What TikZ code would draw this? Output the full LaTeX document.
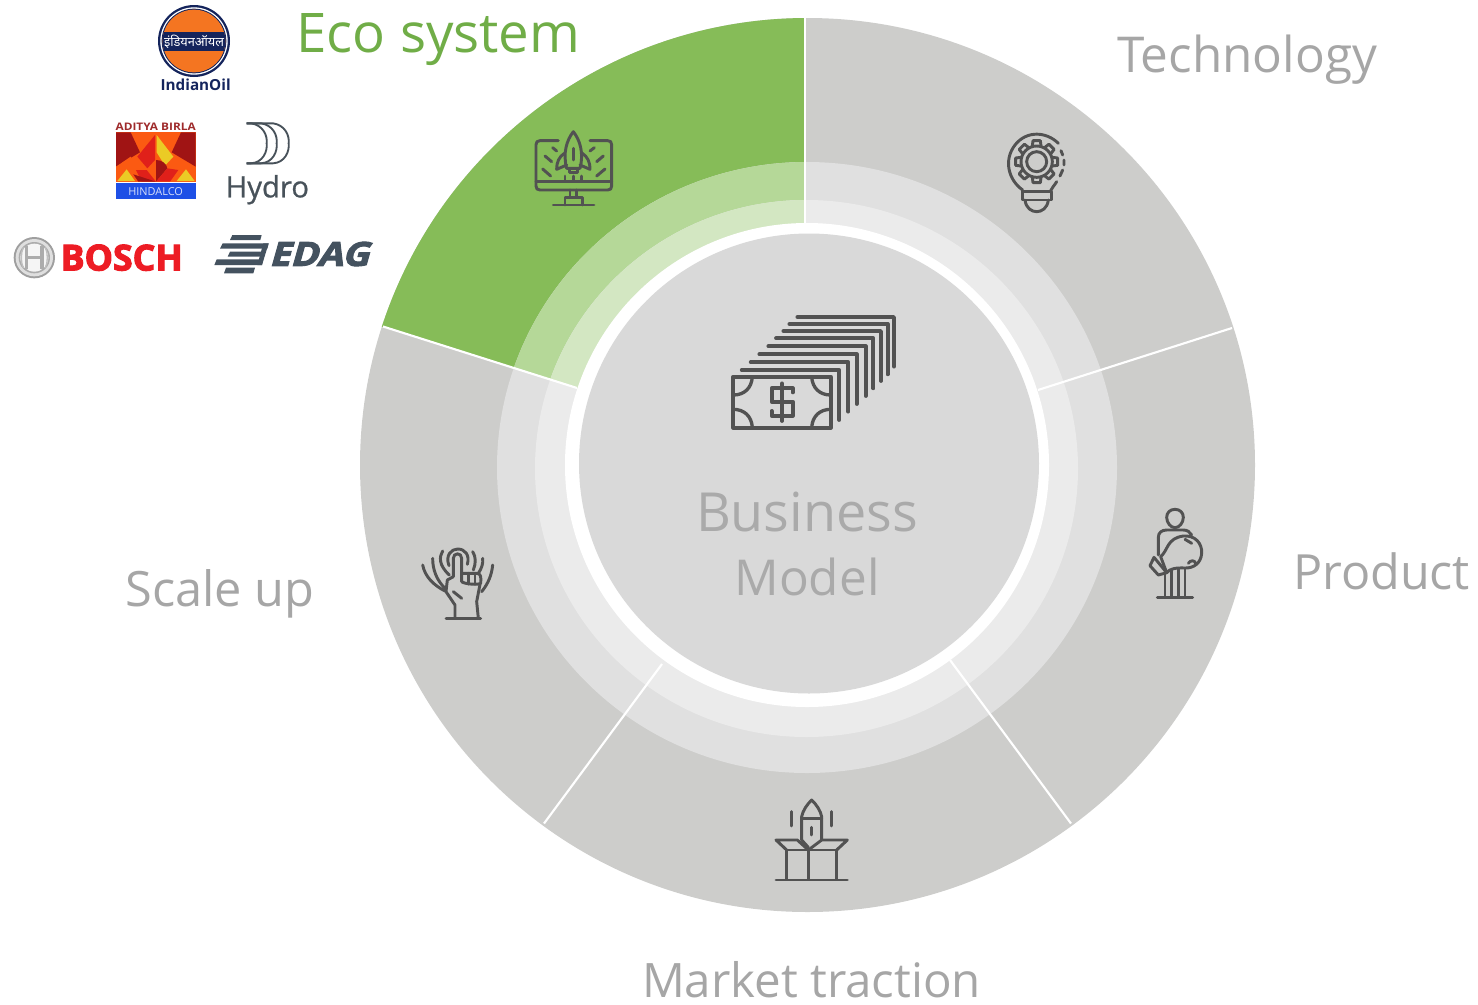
\documentclass[tikz,border=0pt]{standalone}
\usepackage{fontspec}
\setmainfont{Open Sans}
\newfontfamily\opensans{Open Sans}
\newfontfamily\devafont[Script=Devanagari]{Noto Sans}
\newfontfamily\heavyfont[FakeBold=3]{Open Sans Bold}
\newfontfamily\slantfont[FakeBold=3,FakeSlant=0.25]{Open Sans Bold}
\newfontfamily\medfont[FakeBold=0.8]{Open Sans}
\definecolor{outerg}{HTML}{CDCDCB}
\definecolor{midg}{HTML}{E0E0E0}
\definecolor{inng}{HTML}{EBEBEB}
\definecolor{discg}{HTML}{D9D9D9}
\definecolor{green1}{HTML}{86BC58}
\definecolor{green2}{HTML}{B5D898}
\definecolor{green3}{HTML}{D3E7C2}
\definecolor{ecotext}{HTML}{70AD47}
\definecolor{labelg}{HTML}{A6A6A6}
\definecolor{icong}{HTML}{525252}
\definecolor{navy}{HTML}{14245C}
\definecolor{ioil}{HTML}{F47521}
\definecolor{boschred}{HTML}{ED1C24}
\definecolor{edagc}{HTML}{44525F}
\definecolor{hydroc}{HTML}{48525A}
\definecolor{hdark}{HTML}{A01414}
\definecolor{hred}{HTML}{E0201A}
\definecolor{horange}{HTML}{FB5A12}
\definecolor{hyellow}{HTML}{EBCB25}
\definecolor{hblue}{HTML}{1E50E6}
\definecolor{hbirla}{HTML}{9E2A2B}
\tikzset{
  lab/.style={inner sep=0pt,anchor=base,text=labelg},
  ic/.style={draw=icong,line width=#1,line cap=round,line join=round,fill=none},
  ic/.default=2.2pt,
  sep/.style={draw=white,line width=1.6pt},
  zoomed/.style={x=0.25pt,y=-0.25pt}
}
\newcommand{\fitw}[2]{\resizebox{#1}{!}{#2}}
\newcommand{\ringpair}[6]{%
  \fill[#1] (#3,-#4) ellipse[x radius=#5,y radius=#6];
  \begin{scope}
    \clip (805,-400) -- (805,0) -- (-5,0) -- (-5,-205) -- (577,-388) -- cycle;
    \fill[#2] (#3,-#4) ellipse[x radius=#5,y radius=#6];
  \end{scope}
}
\begin{document}
\begin{tikzpicture}[x=0.75pt,y=0.75pt]
\useasboundingbox (0,0) rectangle (1478,-1004);
% rings
\ringpair{outerg}{green1}{807.5}{465}{447.5}{447}
\ringpair{midg}{green2}{807}{467.5}{310}{305.5}
\ringpair{inng}{green3}{806.5}{468.5}{271.5}{268.5}
\fill[white] (807,-465) circle[radius=242];
\fill[discg] (809,-463.5) circle[radius=230];
% separators
\coordinate (o1) at (805,-17);
\coordinate (i1) at (805,-223);
\coordinate (o2) at (383,-326.5);
\coordinate (i2) at (577,-388);
\coordinate (o3) at (544,-823.5);
\coordinate (i3) at (662,-664);
\coordinate (o4) at (1071,-823.5);
\coordinate (i4) at (950,-660);
\coordinate (o5) at (1232,-328);
\coordinate (i5) at (1038,-390);
\foreach \n in {1,...,5}{
  \draw[sep] (i\n) -- (o\n);
}
% labels
\node[lab,text=ecotext] (eco) at (438.5,-52) {\fitw{213pt}{\fontsize{40pt}{40pt}\selectfont Eco system}};
\node[lab] (tech) at (1247,-72) {\fitw{195pt}{\fontsize{34pt}{34pt}\selectfont Technology}};
\node[lab] (prod) at (1381.5,-589) {\fitw{132.75pt}{\fontsize{34pt}{34pt}\selectfont Product}};
\node[lab] (scale) at (220,-606) {\fitw{141.75pt}{\fontsize{34pt}{34pt}\selectfont Scale up}};
\node[lab] (market) at (811.5,-997) {\fitw{254.25pt}{\fontsize{34pt}{34pt}\selectfont Market traction}};
\node[lab,text=labelg!92!discg] (bus) at (807,-531) {\fitw{166.5pt}{\fontsize{38pt}{38pt}\selectfont Business}};
\node[lab,text=labelg!92!discg] (model) at (807,-595) {\fitw{108.75pt}{\fontsize{38pt}{38pt}\selectfont Model}};
% money icon
\begin{scope}[shift={(720,-305)},zoomed]
\foreach \xa/\xb/\ya/\yb in {65/358/195/345,92/385/172/320,118/410/148/297,145/437/124/273,168/460/100/250,190/483/78/228,208/503/57/208,232/522/36/185}{
  \draw[ic=2.8pt] (\xa,\ya) -- (\xb,\ya) -- (\xb,\yb);
}
\draw[ic=2.8pt] (40,215) rectangle (332,368);
\draw[ic=2.5pt] (40,270) .. controls (72,270) and (95,250) .. (97,215);
\draw[ic=2.5pt] (332,270) .. controls (300,270) and (277,250) .. (275,215);
\draw[ic=2.5pt] (40,313) .. controls (72,313) and (95,333) .. (97,368);
\draw[ic=2.5pt] (332,313) .. controls (300,313) and (277,333) .. (275,368);
\draw[ic=3pt] (218,262) -- (218,250) -- (155,250) -- (155,290) -- (218,290) -- (218,332) -- (155,332) -- (155,318);
\draw[ic=2.8pt] (186,235) -- (186,348);
\end{scope}
% rocket monitor
\begin{scope}[shift={(510,-110)},zoomed]
\draw[ic] (145,92) -- (90,92) .. controls (82,92) and (78,96) .. (78,104) -- (78,228) .. controls (78,236) and (82,240) .. (90,240) -- (293,240) .. controls (301,240) and (305,236) .. (305,228) -- (305,104) .. controls (305,96) and (301,92) .. (293,92) -- (240,92);
\draw[ic] (78,215) -- (305,215);
\draw[ic] (180,240) -- (180,262) (200,240) -- (200,262);
\draw[ic] (165,285) -- (165,262) -- (218,262) -- (218,285);
\draw[ic] (130,285) -- (252,285);
\draw[ic] (170,175) .. controls (158,130) and (170,90) .. (190,65) .. controls (210,90) and (222,130) .. (210,175) -- cycle;
\draw[ic] (163,130) .. controls (148,140) and (140,155) .. (140,178) -- (170,165);
\draw[ic] (217,130) .. controls (232,140) and (240,155) .. (240,178) -- (210,165);
\draw[ic] (190,115) -- (190,150);
\draw[ic] (178,178) -- (178,188) -- (203,188) -- (203,178);
\draw[ic] (165,198) -- (165,212) (190,198) -- (190,212) (215,198) -- (215,212);
\draw[ic] (128,113) -- (140,123) (105,138) -- (125,155) (98,177) -- (122,198);
\draw[ic] (253,113) -- (240,123) (280,138) -- (260,155) (285,177) -- (260,198);
\end{scope}
% bulb gear
\begin{scope}[shift={(990,-120)},zoomed]
\draw[ic] (205,70) .. controls (170,35) and (110,30) .. (75,75) .. controls (40,120) and (55,180) .. (98,210);
\draw[ic] (200,185) .. controls (192,198) and (185,204) .. (182,212);
\draw[ic] (213,92) -- (218,105) (222,120) -- (222,135) (218,150) -- (210,168);
\draw[ic] (97,215) rectangle (185,240);
\draw[ic] (105,240) .. controls (108,265) and (125,275) .. (140,275) .. controls (155,275) and (172,265) .. (175,240);
\draw[ic] (140,125) circle[radius=30];
\draw[ic] (140,125) circle[radius=47];
\foreach \a in {0,45,...,315}{
  \draw[ic,shift={(140,125)},rotate=\a] (47,-13) -- (63,-11) -- (63,11) -- (47,13);
}
\end{scope}
% person with bulb
\begin{scope}[shift={(1130,-500)},zoomed]
\draw[ic] (135,28) .. controls (120,28) and (110,38) .. (110,52) .. controls (110,68) and (122,83) .. (135,83) .. controls (148,83) and (160,68) .. (160,52) .. controls (160,38) and (150,28) .. (135,28) -- cycle;
\draw[ic] (85,165) -- (85,112) .. controls (85,98) and (95,90) .. (110,90) -- (160,90) .. controls (172,90) and (180,96) .. (185,105);
\draw[ic] (92,170) .. controls (115,150) and (110,115) .. (160,108) .. controls (195,105) and (217,130) .. (215,160) .. controls (213,190) and (190,205) .. (165,204) .. controls (140,203) and (120,205) .. (110,218) -- cycle;
\draw[ic] (72,172) -- (110,218) -- (85,225) -- (60,197) -- cycle;
\draw[ic] (165,118) -- (185,130);
\draw[ic] (175,190) .. controls (180,180) and (195,180) .. (197,190);
\draw[ic] (105,215) -- (105,290) (125,210) -- (125,290) (145,205) -- (145,290) (165,205) -- (165,290);
\draw[ic] (82,292) -- (188,292);
\end{scope}
% box rocket
\begin{scope}[shift={(760,-790)},zoomed]
\draw[ic] (125,150) -- (125,80) .. controls (128,62) and (142,42) .. (155,30) .. controls (168,42) and (182,62) .. (185,80) -- (185,150);
\draw[ic] (125,85) -- (185,85);
\draw[ic] (155,112) -- (155,135);
\draw[ic] (95,65) -- (95,108) (215,65) -- (215,108);
\draw[ic] (80,180) -- (230,180);
\draw[ic] (80,180) -- (80,268) (230,180) -- (230,268) (145,180) -- (145,268);
\draw[ic] (48,270) -- (262,270);
\draw[ic] (80,180) -- (48,150) -- (112,150) -- (145,180) -- (185,150) -- (262,150) -- (230,180);
\draw[ic] (125,150) -- (145,172);
\end{scope}
% hand
\begin{scope}[shift={(410,-535)},zoomed]
\draw[ic] (130,125) -- (130,70) .. controls (130,52) and (155,52) .. (155,70) -- (155,140);
\draw[ic] (117,92) .. controls (105,60) and (125,42) .. (143,42) .. controls (165,42) and (180,60) .. (172,88);
\draw[ic] (118,120) .. controls (85,90) and (88,65) .. (98,48);
\draw[ic] (190,105) .. controls (198,85) and (198,65) .. (188,50);
\draw[ic] (105,160) .. controls (80,135) and (68,105) .. (68,70);
\draw[ic] (205,115) .. controls (215,100) and (220,85) .. (218,70);
\draw[ic] (105,168) .. controls (70,150) and (45,125) .. (38,90);
\draw[ic] (215,170) .. controls (235,145) and (245,120) .. (248,90);
\draw[ic] (155,115) -- (200,115) .. controls (212,115) and (214,125) .. (212,145) .. controls (205,150) and (165,148) .. (155,140);
\draw[ic] (175,115) -- (175,147) (195,115) -- (195,148);
\draw[ic] (130,125) -- (112,135) -- (108,170) -- (135,210) -- (135,250);
\draw[ic] (210,148) -- (200,200) -- (205,250);
\draw[ic] (130,170) -- (155,190);
\draw[ic] (108,250) -- (212,250);
\end{scope}
% logos
\begin{scope}[zoomed]
% Indian Oil
\fill[navy] (582,123) circle[radius=108];
\fill[white] (582,123) circle[radius=101];
\fill[navy] (582,123) circle[radius=97];
\begin{scope}
\clip (582,123) circle[radius=94];
\fill[ioil] (480,20) rectangle (690,230);
\fill[navy] (480,97) rectangle (690,153);
\end{scope}
\node[inner sep=0pt,text=white] (iocl) at (582,125) {\resizebox{45pt}{!}{\devafont\bfseries इंडियनऑयल}};
\node[inner sep=0pt,text=navy] (ioname) at (587,254) {\resizebox{52.5pt}{!}{\opensans\bfseries IndianOil}};
% Hydro
\foreach \dx in {-22,8,44}{
  \draw[hydroc,line width=1.4pt] (740,370) -- (775+\dx,370) .. controls (810+\dx,375) and (825+\dx,405) .. (822+\dx,430) .. controls (825+\dx,455) and (810+\dx,488) .. (775+\dx,490) -- (740,490);
}
\node[inner sep=0pt,anchor=base,text=hydroc] (hydro) at (802,592) {\fitw{62.5pt}{\medfont Hydro}};
% Bosch
\fill[gray!75] (103,773) circle[radius=62];
\fill[gray!25] (103,773) circle[radius=56];
\fill[gray!65] (103,773) circle[radius=47];
\fill[gray!8] (103,773) circle[radius=42];
\draw[gray!65,line width=2.4pt] (80,738) -- (80,808) (126,738) -- (126,808);
\draw[gray!65,line width=2pt] (80,773) -- (126,773);
\draw[gray!50,line width=1pt] (70,742) .. controls (62,760) and (62,786) .. (70,804) (136,742) .. controls (144,760) and (144,786) .. (136,804);
\node[inner sep=0pt,text=boschred] (bosch) at (365,773) {\resizebox{91.5pt}{!}{\heavyfont BOSCH}};
% EDAG
\fill[edagc] (697,705) -- (785,705) -- (781,720) -- (690,720) -- cycle;
\fill[edagc] (668,730) -- (806,730) -- (802,746) -- (660,746) -- cycle;
\fill[edagc] (690,755) -- (795,755) -- (791,770) -- (683,770) -- cycle;
\fill[edagc] (650,778) -- (790,778) -- (786,795) -- (643,795) -- cycle;
\fill[edagc] (678,803) -- (765,803) -- (760,820) -- (672,820) -- cycle;
\fill[edagc] (806,730) -- (786,795) -- (772,795) -- (790,730) -- cycle;
\node[inner sep=0pt,text=edagc] (edag) at (957,762) {\resizebox{75pt}{18pt}{\slantfont EDAG}};
\end{scope}
% Hindalco
\begin{scope}[shift={(110,-115)},zoomed]
\node[inner sep=0pt,text=hbirla] (birla) at (137,35) {\resizebox{60pt}{5.6pt}{\opensans\bfseries ADITYA BIRLA}};
\fill[horange] (18,50) rectangle (257,202);
\fill[hdark] (18,52) -- (62,52) -- (90,112) -- (18,155) -- cycle;
\fill[hdark] (257,52) -- (213,52) -- (185,112) -- (257,155) -- cycle;
\fill[hred] (135,60) -- (82,125) -- (112,160) -- (135,135) -- cycle;
\fill[hyellow] (140,60) -- (190,125) -- (165,152) -- (140,112) -- cycle;
\fill[horange] (18,155) -- (62,125) -- (85,165) -- (60,170) -- cycle;
\fill[hdark] (138,200) -- (138,135) .. controls (155,135) and (170,145) .. (172,160) -- cycle;
\fill[hred] (138,200) -- (172,160) -- (205,165) -- (180,200) -- cycle;
\fill[hred] (138,200) -- (110,165) -- (78,165) -- (95,200) -- cycle;
\fill[hdark] (138,200) -- (70,178) -- (85,200) -- cycle;
\fill[hyellow] (22,198) -- (50,163) -- (75,198) -- cycle;
\fill[hyellow] (200,198) -- (228,163) -- (254,198) -- cycle;
\fill[hblue] (18,205) rectangle (257,252);
\node[inner sep=0pt,text=white!82!hblue] (hind) at (137,229) {\resizebox{41pt}{!}{\opensans HINDALCO}};
\end{scope}
\end{tikzpicture}
\end{document}
